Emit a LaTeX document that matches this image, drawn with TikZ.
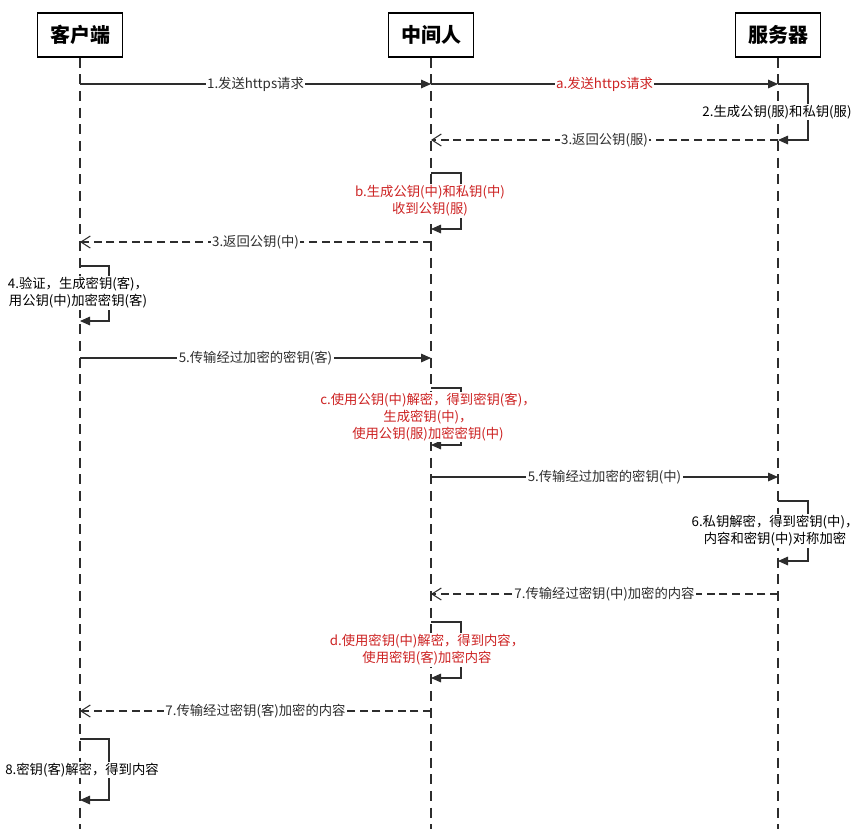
\documentclass[tikz,border=0pt]{standalone}
\usepackage{fontspec}
\setmainfont{Noto Sans CJK SC}
\usetikzlibrary{arrows.meta, positioning, calc}
\definecolor{notered}{RGB}{205,35,35}
\definecolor{linegray}{RGB}{45,45,45}

\begin{document}
\begin{tikzpicture}[x=0.75pt, y=-0.75pt,
    head/.style={draw, thick, fill=white, minimum width=63.75pt, minimum height=33pt,
        font=\fontsize{15}{18}\selectfont\bfseries},
    life/.style={linegray, line width=0.8pt, dash pattern=on 7.5pt off 5pt},
    msg/.style={linegray, line width=0.8pt, -{Triangle[length=7.5pt, width=6.5pt]}},
    reply/.style={linegray, line width=0.8pt, dash pattern=on 6pt off 3.5pt,
        -{Straight Barb[length=7pt, width=9pt]}},
    lab/.style={midway, fill=white, inner sep=1pt, font=\fontsize{10}{12}\selectfont},
    note/.style={fill=white, inner sep=1pt, align=center,
        font=\fontsize{10}{12.75}\selectfont},
    rednote/.style={note, text=notered}]
    \useasboundingbox (0,0) rectangle (864,829);

    % 三个角色
    \node[head] (client) at (80,35) {客户端};
    \node[head] (mitm) at (431,35) {中间人};
    \node[head] (server) at (778,35) {服务器};

    % 生命线
    \coordinate (cend) at (80,829);
    \coordinate (mend) at (431,829);
    \coordinate (send) at (778,829);
    \draw[life] (client.south) -- (cend);
    \draw[life] (mitm.south) -- (mend);
    \draw[life] (server.south) -- (send);

    % 消息点
    \coordinate (c1) at (80,84);   \coordinate (m1) at (431,84);   \coordinate (s1) at (778,84);
    \coordinate (m2) at (431,140); \coordinate (s2) at (778,140);
    \coordinate (m3) at (431,173); \coordinate (m4) at (431,229);
    \coordinate (c5) at (80,242);  \coordinate (m5) at (431,242);
    \coordinate (c6) at (80,266);  \coordinate (c7) at (80,321);
    \coordinate (c8) at (80,358);  \coordinate (m8) at (431,358);
    \coordinate (m9) at (431,388); \coordinate (m10) at (431,445);
    \coordinate (m11) at (431,477); \coordinate (s11) at (778,477);
    \coordinate (s12) at (778,501); \coordinate (s13) at (778,561);
    \coordinate (m14) at (431,594); \coordinate (s14) at (778,594);
    \coordinate (m15) at (431,622); \coordinate (m16) at (431,678);
    \coordinate (c17) at (80,711);  \coordinate (m17) at (431,711);
    \coordinate (c18) at (80,739);  \coordinate (c19) at (80,800);

    % 请求
    \draw[msg] (c1) -- (m1) node[lab] {1.发送https请求};
    \draw[msg] (m1) -- (s1) node[lab, text=notered] {a.发送https请求};

    % 自调用
    \draw[msg] (s1) -- ++(30,0) |- (s2);
    \draw[msg] (m3) -- ++(30,0) |- (m4);
    \draw[msg] (c6) -- ++(29,0) |- (c7);
    \draw[msg] (m9) -- ++(30,0) |- (m10);
    \draw[msg] (s12) -- ++(30,0) |- (s13);
    \draw[msg] (m15) -- ++(30,0) |- (m16);
    \draw[msg] (c18) -- ++(29,0) |- (c19);

    % 交换密钥
    \draw[reply] (s2) -- (m2) node[lab] {3.返回公钥(服)};
    \draw[reply] (m5) -- (c5) node[lab] {3.返回公钥(中)};
    \draw[msg] (c8) -- (m8) node[lab] {5.传输经过加密的密钥(客)};
    \draw[msg] (m11) -- (s11) node[lab] {5.传输经过加密的密钥(中)};
    \draw[reply] (s14) -- (m14) node[lab] {7.传输经过密钥(中)加密的内容};
    \draw[reply] (m17) -- (c17) node[lab] {7.传输经过密钥(客)加密的内容};

    % 说明文字
    \node[note] (n2) at (777,112) {2.生成公钥(服)和私钥(服)};
    \node[rednote] (nb) at (430,201) {b.生成公钥(中)和私钥(中)\\收到公钥(服)};
    \node[note] (n4) at (78,293) {4.验证，生成密钥(客)，\\用公钥(中)加密密钥(客)};
    \node[rednote] (nc) at (428,417) {c.使用公钥(中)解密，得到密钥(客)，\\生成密钥(中)，\\使用公钥(服)加密密钥(中)};
    \node[note] (n6) at (775,531) {6.私钥解密，得到密钥(中)，\\内容和密钥(中)对称加密};
    \node[rednote] (nd) at (427,650) {d.使用密钥(中)解密，得到内容，\\使用密钥(客)加密内容};
    \node[note] (n8) at (82,770) {8.密钥(客)解密，得到内容};
\end{tikzpicture}
\end{document}
